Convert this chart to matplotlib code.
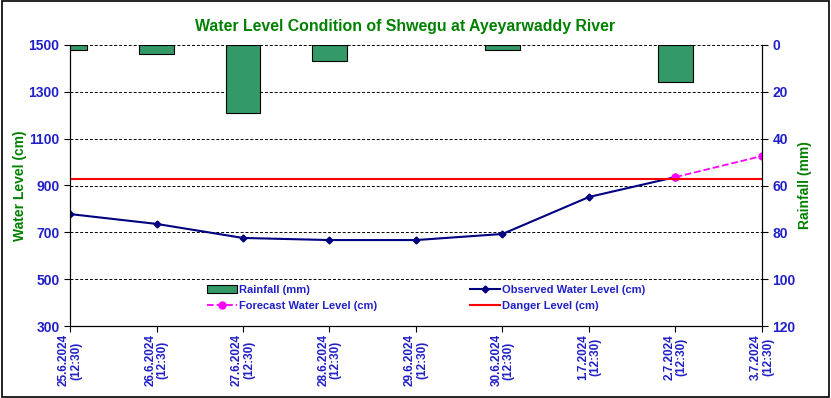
import numpy as np
import matplotlib
matplotlib.use("Agg")
import matplotlib.pyplot as plt
from matplotlib.patches import Rectangle

plt.rcParams['font.family'] = ['Liberation Sans', 'DejaVu Sans']

# data
dates = ["25.6.2024\n(12:30)", "26.6.2024\n(12:30)", "27.6.2024\n(12:30)",
         "28.6.2024\n(12:30)", "29.6.2024\n(12:30)", "30.6.2024\n(12:30)",
         "1.7.2024\n(12:30)", "2.7.2024\n(12:30)", "3.7.2024\n(12:30)"]
rainfall = [2, 4, 29, 7, 0, 2, 0, 16, 0]
observed = [778, 736, 676, 667, 667, 693, 851, 936]
forecast_idx = [7, 8]
forecast = [936, 1026]
danger = 928

x = np.arange(len(dates))
blue = "#2020C8"
green = "#008000"

fig = plt.figure(figsize=(8.31, 3.98), dpi=100)
ax = fig.add_axes([70/831, 1-326/398, 692/831, 281/398])
ax2 = ax.twinx()
ax.set_zorder(2)
ax2.set_zorder(1)
ax.patch.set_visible(False)
ax2.patch.set_facecolor("#CCFFFF")

# rainfall bars on right axis (inverted); zero days draw nothing
rain = np.array(rainfall, dtype=float)
wet = rain > 0
bars = ax2.bar(x[wet], rain[wet], width=0.4, color="#339966", edgecolor="black",
               linewidth=0.8, label="Rainfall (mm)")
ax2.set_ylim(120, 0)
ax2.set_yticks(np.arange(0, 121, 20))
ax2.yaxis.grid(True, color="black", linestyle=(0, (3, 2)), linewidth=0.7)
ax2.set_axisbelow(True)

# water levels
l_obs, = ax.plot(x[:len(observed)], observed, color="#000080", marker="D",
                 markersize=3.5, linewidth=1.5, label="Observed Water Level (cm)")
l_fc, = ax.plot(forecast_idx, forecast, color="#FF00FF", marker="o",
                markersize=5, linestyle="--", linewidth=1.3,
                label="Forecast Water Level (cm)")
l_dg = ax.axhline(danger, color="#FF0000", linewidth=1.5, label="Danger Level (cm)")

ax.set_xlim(0, len(dates) - 1)
ax.set_ylim(300, 1500)
ax.set_yticks(np.arange(300, 1501, 200))
ax.set_xticks(x)
ax.set_xticklabels(dates, rotation=90, fontsize=8.5, color=blue, linespacing=1.0,
                   fontweight="bold", ha="center", va="top", multialignment="center")

for a in (ax, ax2):
    for lab in a.get_yticklabels():
        lab.set_color(blue)
        lab.set_fontweight("bold")
        lab.set_fontsize(10)
    a.tick_params(axis="y", direction="out", length=4)
ax.tick_params(axis="x", direction="out", length=4, pad=2)
ax.spines["top"].set_visible(False)
ax2.spines["top"].set_visible(False)

ax.set_ylabel("Water Level (cm)", color=green, fontweight="bold", fontsize=10, labelpad=1)
ax2.set_ylabel("Rainfall (mm)", color=green, fontweight="bold", fontsize=10, labelpad=2)

fig.suptitle("Water Level Condition of Shwegu at Ayeyarwaddy River", x=405/831, y=1-26/398,
             va="center", color=green, fontweight="bold", fontsize=11.4)

handles = [bars, l_fc, l_obs, l_dg]
leg = ax.legend(handles, [h.get_label() for h in handles], ncol=2, loc="upper left",
                bbox_to_anchor=((207 - 70) / 692, (326 - 285) / 281), frameon=False,
                fontsize=8, borderpad=0, borderaxespad=0,
                handlelength=2.7, columnspacing=8.3, handletextpad=0.2, labelspacing=0.55)
for t in leg.get_texts():
    t.set_color(blue)
    t.set_fontweight("bold")

fig.patches.append(Rectangle((0.002, 0.003), 0.996, 0.994, transform=fig.transFigure,
                             fill=False, edgecolor="black", linewidth=1.2))

fig.savefig("out.png", dpi=100)
